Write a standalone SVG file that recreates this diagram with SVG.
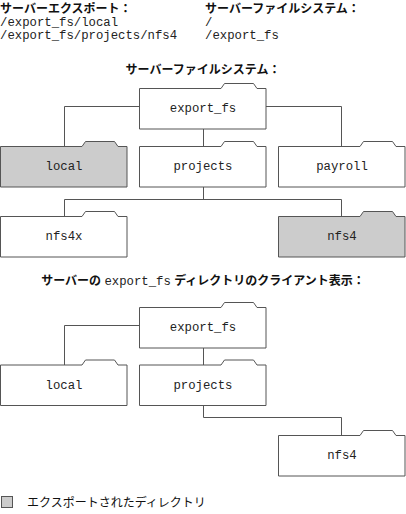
<svg xmlns="http://www.w3.org/2000/svg" width="406" height="514" viewBox="0 0 406 514">
<style>
.jp{font-family:"Liberation Sans","Noto Sans CJK JP",sans-serif;font-size:12px;font-weight:bold;fill:#111}
.jpn{font-family:"Liberation Sans","Noto Sans CJK JP",sans-serif;font-size:12px;font-weight:normal;fill:#111}
.mono{font-family:"Liberation Mono",monospace;font-size:12.3px;font-weight:normal;fill:#222}
.fold{fill:#fff;stroke:#555;stroke-width:1}
.exp{fill:#cccccc}
.lbl{font-family:"Liberation Mono",monospace;font-size:12.3px;fill:#222;text-anchor:middle}
.conn{fill:none;stroke:#555;stroke-width:1}
</style>
<defs>
<path id="folder" d="M0.5,5.5 H82 L85.5,0.5 H114.5 L118,5.5 H127 V46 H0.5 Z"/>
</defs>
<rect width="406" height="514" fill="#fff"/>
<g id="header">
<text class="jp" x="0" y="13">サーバーエクスポート：</text>
<text class="mono" x="0" y="26">/export_fs/local</text>
<text class="mono" x="0" y="39">/export_fs/projects/nfs4</text>
<text class="jp" x="205" y="13">サーバーファイルシステム：</text>
<text class="mono" x="205" y="26">/</text>
<text class="mono" x="205" y="39">/export_fs</text>
<text class="jp" x="203" y="74" text-anchor="middle">サーバーファイルシステム：</text>
<text class="jp" x="203" y="285" text-anchor="middle">サーバーの <tspan class="mono">export_fs</tspan> ディレクトリのクライアント表示：</text>
</g>
<g id="connectors">
<path class="conn" d="M139,106.5 H64.5 V146 M266,106.5 H341.5 V146 M203.5,128.5 V146"/>
<path class="conn" d="M203.5,186.5 V199.5 M64.5,216 V199.5 H341.5 V216"/>
<path class="conn" d="M139,325.5 H64.5 V365 M203.5,348 V365"/>
<path class="conn" d="M203.5,405 V417.5 H341.5 V435.5"/>
</g>
<g id="s1-export_fs" transform="translate(139,83)"><use href="#folder" class="fold"/><text class="lbl" x="64" y="29">export_fs</text></g>
<g id="s1-local" transform="translate(0,141)"><use href="#folder" class="fold exp"/><text class="lbl" x="64" y="29">local</text></g>
<g id="s1-projects" transform="translate(139,141)"><use href="#folder" class="fold"/><text class="lbl" x="64" y="29">projects</text></g>
<g id="s1-payroll" transform="translate(278,141)"><use href="#folder" class="fold"/><text class="lbl" x="64" y="29">payroll</text></g>
<g id="s1-nfs4x" transform="translate(0,211)"><use href="#folder" class="fold"/><text class="lbl" x="64" y="29">nfs4x</text></g>
<g id="s1-nfs4" transform="translate(278,211)"><use href="#folder" class="fold exp"/><text class="lbl" x="64" y="29">nfs4</text></g>
<g id="s2-export_fs" transform="translate(139,302)"><use href="#folder" class="fold"/><text class="lbl" x="64" y="29">export_fs</text></g>
<g id="s2-local" transform="translate(0,359.5)"><use href="#folder" class="fold"/><text class="lbl" x="64" y="29">local</text></g>
<g id="s2-projects" transform="translate(139,359.5)"><use href="#folder" class="fold"/><text class="lbl" x="64" y="29">projects</text></g>
<g id="s2-nfs4" transform="translate(278,430)"><use href="#folder" class="fold"/><text class="lbl" x="64" y="29">nfs4</text></g>
<g id="legend">
<rect x="1.5" y="496.5" width="11" height="11" fill="#cccccc" stroke="#555"/>
<text class="jpn" x="27" y="507">エクスポートされたディレクトリ</text>
</g>
</svg>
